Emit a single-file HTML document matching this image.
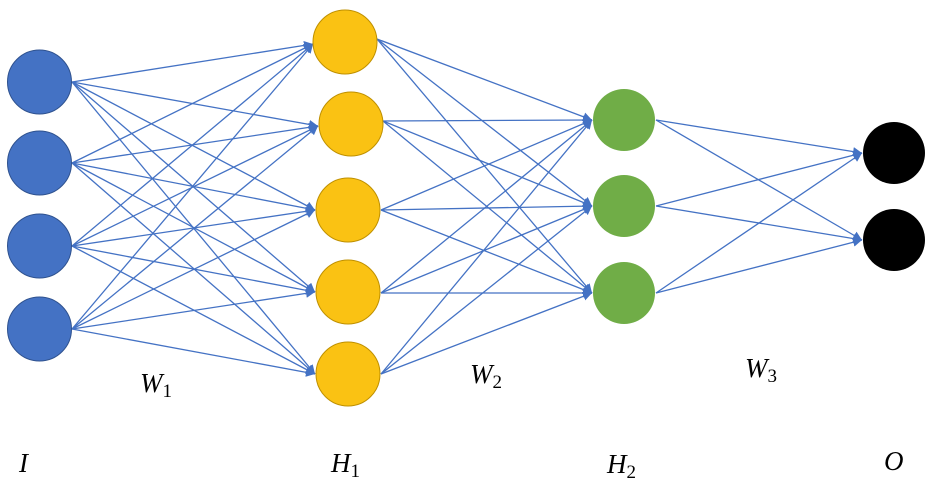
<!DOCTYPE html>
<html><head><meta charset="utf-8"><style>
html,body{margin:0;padding:0;background:#fff;}
svg{display:block}
text{font-family:"Liberation Serif",serif;font-style:italic;font-size:27px;fill:#000}
.s{font-size:19px;font-style:normal}
</style></head><body>
<svg width="932" height="490" viewBox="0 0 932 490" xmlns="http://www.w3.org/2000/svg">
<defs>
<marker id="a" viewBox="0 0 10 10" refX="10" refY="5" markerWidth="9" markerHeight="9" markerUnits="userSpaceOnUse" orient="auto">
<path d="M0,0 L10,5 L0,10 z" fill="#4472C4"/></marker>
</defs>
<g stroke="#4472C4" stroke-width="1.3" fill="none" marker-end="url(#a)">
<!-- input -> H1 -->
<line x1="72" y1="82" x2="313" y2="44"/><line x1="72" y1="82" x2="318" y2="126"/><line x1="72" y1="82" x2="315" y2="210"/><line x1="72" y1="82" x2="315" y2="292"/><line x1="72" y1="82" x2="315" y2="374"/>
<line x1="72" y1="163" x2="313" y2="44"/><line x1="72" y1="163" x2="318" y2="126"/><line x1="72" y1="163" x2="315" y2="210"/><line x1="72" y1="163" x2="315" y2="292"/><line x1="72" y1="163" x2="315" y2="374"/>
<line x1="72" y1="246" x2="313" y2="44"/><line x1="72" y1="246" x2="318" y2="126"/><line x1="72" y1="246" x2="315" y2="210"/><line x1="72" y1="246" x2="315" y2="292"/><line x1="72" y1="246" x2="315" y2="374"/>
<line x1="72" y1="329" x2="313" y2="44"/><line x1="72" y1="329" x2="318" y2="126"/><line x1="72" y1="329" x2="315" y2="210"/><line x1="72" y1="329" x2="315" y2="292"/><line x1="72" y1="329" x2="315" y2="374"/>
<!-- H1 -> H2 -->
<line x1="377" y1="39" x2="592" y2="120"/><line x1="377" y1="39" x2="592" y2="206"/><line x1="377" y1="39" x2="592" y2="293"/>
<line x1="383" y1="121" x2="592" y2="120"/><line x1="383" y1="121" x2="592" y2="206"/><line x1="383" y1="121" x2="592" y2="293"/>
<line x1="381" y1="210" x2="592" y2="120"/><line x1="381" y1="210" x2="592" y2="206"/><line x1="381" y1="210" x2="592" y2="293"/>
<line x1="381" y1="293" x2="592" y2="120"/><line x1="381" y1="293" x2="592" y2="206"/><line x1="381" y1="293" x2="592" y2="293"/>
<line x1="381" y1="374" x2="592" y2="120"/><line x1="381" y1="374" x2="592" y2="206"/><line x1="381" y1="374" x2="592" y2="293"/>
<!-- H2 -> O -->
<line x1="656" y1="120" x2="862" y2="153"/><line x1="656" y1="120" x2="862" y2="240"/>
<line x1="656" y1="206" x2="862" y2="153"/><line x1="656" y1="206" x2="862" y2="240"/>
<line x1="656" y1="293" x2="862" y2="153"/><line x1="656" y1="293" x2="862" y2="240"/>
</g>
<g fill="#4472C4" stroke="#2F528F" stroke-width="1">
<circle cx="39.5" cy="82" r="32"/><circle cx="39.5" cy="163" r="32"/><circle cx="39.5" cy="246" r="32"/><circle cx="39.5" cy="329" r="32"/>
</g>
<g fill="#FAC213" stroke="#BF9000" stroke-width="1">
<circle cx="345" cy="42" r="32"/><circle cx="351" cy="124" r="32"/><circle cx="348" cy="210" r="32"/><circle cx="348" cy="292" r="32"/><circle cx="348" cy="374" r="32"/>
</g>
<g fill="#70AD47">
<circle cx="624" cy="120" r="31"/><circle cx="624" cy="206" r="31"/><circle cx="624" cy="293" r="31"/>
</g>
<g fill="#000">
<circle cx="894" cy="153" r="31"/><circle cx="894" cy="240" r="31"/>
</g>
<text x="140" y="392">W<tspan class="s" dy="5">1</tspan></text>
<text x="470" y="383">W<tspan class="s" dy="5">2</tspan></text>
<text x="745" y="377">W<tspan class="s" dy="5">3</tspan></text>
<text x="19" y="472">I</text>
<text x="331" y="472">H<tspan class="s" dy="5">1</tspan></text>
<text x="607" y="473">H<tspan class="s" dy="5">2</tspan></text>
<text x="884" y="470">O</text>
</svg>
</body></html>
